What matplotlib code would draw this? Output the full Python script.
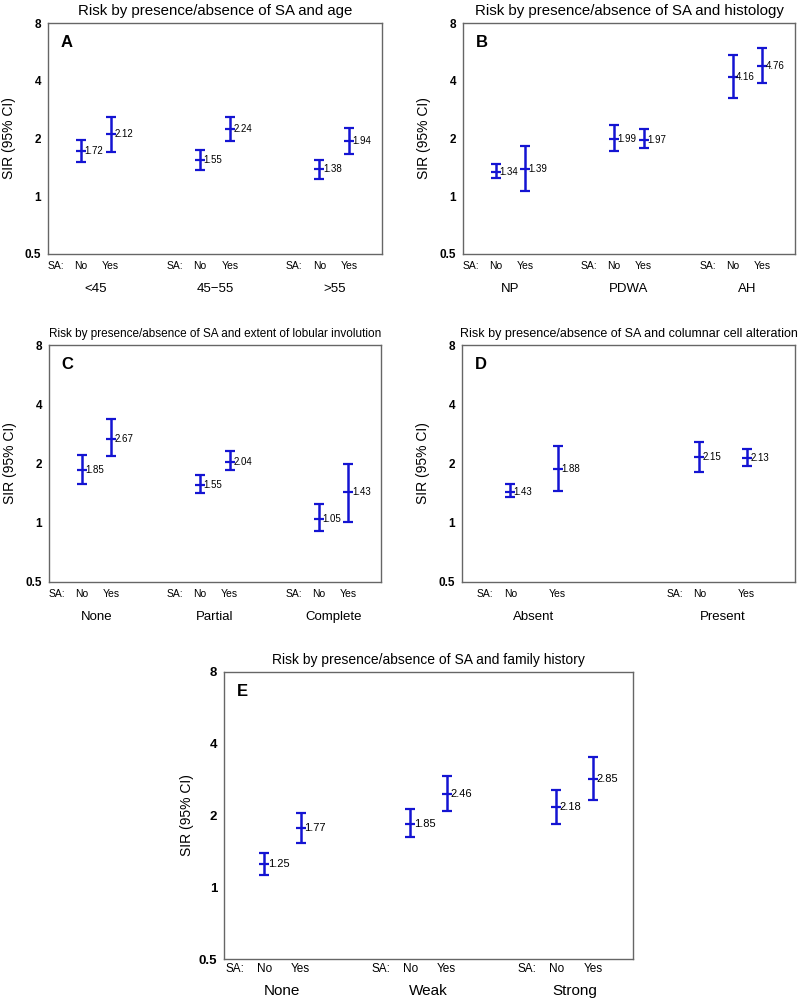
import numpy as np
import matplotlib
matplotlib.use('Agg')
import matplotlib.pyplot as plt

plt.rcParams['font.family'] = ['Liberation Sans', 'DejaVu Sans']

# A: age
a_groups = ['<45', '45\u221255', '>55']
a_est = [1.72, 2.12, 1.55, 2.24, 1.38, 1.94]
a_lo = [1.50, 1.71, 1.37, 1.94, 1.23, 1.67]
a_hi = [1.96, 2.60, 1.75, 2.58, 1.55, 2.27]

# B: histology
b_groups = ['NP', 'PDWA', 'AH']
b_est = [1.34, 1.39, 1.99, 1.97, 4.16, 4.76]
b_lo = [1.24, 1.07, 1.72, 1.78, 3.24, 3.89]
b_hi = [1.47, 1.83, 2.36, 2.24, 5.43, 5.94]

# C: lobular involution
c_groups = ['None', 'Partial', 'Complete']
c_est = [1.85, 2.67, 1.55, 2.04, 1.05, 1.43]
c_lo = [1.58, 2.18, 1.41, 1.85, 0.91, 1.01]
c_hi = [2.21, 3.35, 1.74, 2.32, 1.24, 2.00]

# D: columnar cell alteration
d_groups = ['Absent', 'Present']
d_est = [1.43, 1.88, 2.15, 2.13]
d_lo = [1.35, 1.45, 1.82, 1.95]
d_hi = [1.57, 2.45, 2.58, 2.38]

# E: family history
e_groups = ['None', 'Weak', 'Strong']
e_est = [1.25, 1.77, 1.85, 2.46, 2.18, 2.85]
e_lo = [1.13, 1.54, 1.63, 2.08, 1.85, 2.33]
e_hi = [1.39, 2.05, 2.12, 2.93, 2.57, 3.52]

sa_labels = ['No', 'Yes']
yticks = [0.5, 1, 2, 4, 8]
ytick_labels = ['0.5', '1', '2', '4', '8']

blue = '#1414d2'


def panel(ax, title, letter, groups, est, lo, hi, tsize, big=False):
    est = np.array(est)
    lo = np.array(lo)
    hi = np.array(hi)
    n = len(groups)
    g = np.arange(1, n + 1)
    x = np.column_stack([g - 0.125, g + 0.125]).ravel()

    ax.errorbar(x, est, yerr=[est - lo, hi - est], fmt='_', color=blue,
                ecolor=blue, elinewidth=1.8, capsize=3.5, capthick=1.8,
                markersize=7, mew=1.6)
    vsize = 8 if big else 7
    for xi, v in zip(x, est):
        ax.annotate(f'{v:.2f}', xy=(xi, v), xytext=(2.5, 0),
                    textcoords='offset points', ha='left', va='center',
                    fontsize=vsize)

    ax.set_yscale('log', base=2)
    ax.set_ylim(0.5, 8)
    ax.set_yticks(yticks)
    ax.set_yticklabels(ytick_labels, fontweight='bold')
    ax.minorticks_off()
    ax.set_xticks([])
    if n == 3:
        ax.set_xlim(0.6, 3.4)
    else:
        ax.set_xlim(0.62, 2.38)
    ax.tick_params(axis='y', length=0, pad=5, labelsize=9.5 if big else 8.5)
    for s in ax.spines.values():
        s.set_color('#666666')
        s.set_linewidth(1.0)

    ax.set_ylabel('SIR (95% CI)', fontsize=10, labelpad=3 if big else 6)
    ax.set_title(title, fontsize=tsize, pad=6)
    ax.annotate(letter, xy=(0, 1), xycoords='axes fraction', xytext=(9, -14),
                textcoords='offset points', ha='left', va='center',
                fontsize=12, fontweight='bold')

    sa_size = 8.5 if big else 7.5
    grp_size = 11 if big else 9.5
    sa_dy = -7 if big else -8.5
    grp_dy = -23 if big else -25
    sa_dx = -21 if big else -18
    for i in range(n):
        xn = x[2 * i]
        ax.annotate('SA:', xy=(xn, 0), xycoords=('data', 'axes fraction'),
                    xytext=(sa_dx, sa_dy), textcoords='offset points',
                    ha='center', va='center', fontsize=sa_size)
        for j in range(2):
            ax.annotate(sa_labels[j], xy=(x[2 * i + j], 0),
                        xycoords=('data', 'axes fraction'),
                        xytext=(0, sa_dy), textcoords='offset points',
                        ha='center', va='center', fontsize=sa_size)
        ax.annotate(groups[i], xy=(g[i], 0), xycoords=('data', 'axes fraction'),
                    xytext=(0, grp_dy), textcoords='offset points',
                    ha='center', va='center', fontsize=grp_size)


fig = plt.figure(figsize=(7.98, 10), dpi=100)
axA = fig.add_axes([0.0602, 0.746, 0.4185, 0.231])
axB = fig.add_axes([0.5802, 0.746, 0.4160, 0.231])
axC = fig.add_axes([0.0614, 0.418, 0.4160, 0.237])
axD = fig.add_axes([0.5789, 0.418, 0.4173, 0.237])
axE = fig.add_axes([0.2807, 0.041, 0.5125, 0.287])

panel(axA, 'Risk by presence/absence of SA and age', 'A',
      a_groups, a_est, a_lo, a_hi, 10.8)
panel(axB, 'Risk by presence/absence of SA and histology', 'B',
      b_groups, b_est, b_lo, b_hi, 10.8)
panel(axC, 'Risk by presence/absence of SA and extent of lobular involution', 'C',
      c_groups, c_est, c_lo, c_hi, 8.5)
panel(axD, 'Risk by presence/absence of SA and columnar cell alteration', 'D',
      d_groups, d_est, d_lo, d_hi, 9)
panel(axE, 'Risk by presence/absence of SA and family history', 'E',
      e_groups, e_est, e_lo, e_hi, 10, big=True)

fig.savefig('out.png', dpi=100)
